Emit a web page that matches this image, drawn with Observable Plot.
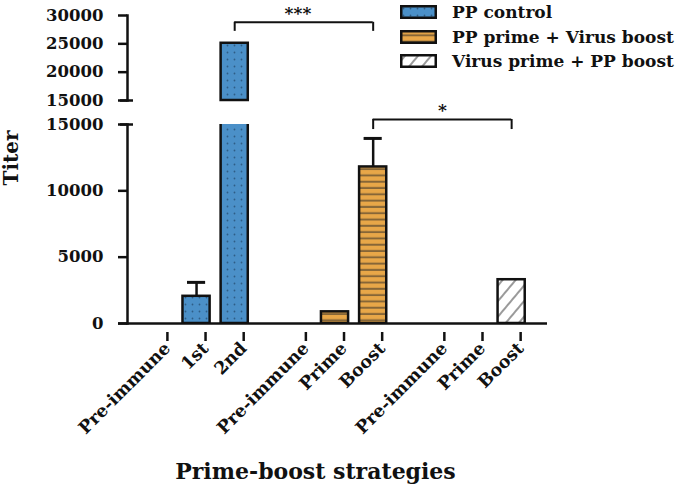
<!DOCTYPE html>
<html><head><meta charset="utf-8">
<script src="https://cdn.jsdelivr.net/npm/d3@7"></script>
<script src="https://cdn.jsdelivr.net/npm/@observablehq/plot@0.6"></script>
<style>
html,body{margin:0;padding:0;background:#fff;}
#chart{position:relative;width:689px;height:491px;font-family:"DejaVu Serif",serif;font-weight:bold;color:#111;overflow:hidden;}
#chart svg.plot{position:absolute;left:0;top:0;overflow:visible;}
.legend{position:absolute;left:400px;top:0px;}
.legend .row{display:flex;align-items:center;height:24.5px;font-size:17px;white-space:nowrap;}
.legend .row svg{margin-right:15px;}
.ytitle{position:absolute;left:11px;top:158px;transform:translate(-50%,-50%) rotate(-90deg);font-size:20px;white-space:nowrap;}
.xtitle{position:absolute;left:0;width:631px;top:460px;text-align:center;font-size:22px;line-height:22px;white-space:nowrap;}
</style></head>
<body>
<svg width="0" height="0" style="position:absolute">
  <defs>
    <pattern id="dots" patternUnits="userSpaceOnUse" width="7" height="7">
      <rect width="7" height="7" fill="#4b90c8"/>
      <circle cx="3.5" cy="3.5" r="0.9" fill="#2e5d86"/>
    </pattern>
    <pattern id="stripes" patternUnits="userSpaceOnUse" width="6" height="6.3">
      <rect width="6" height="6.3" fill="#e8a748"/>
      <rect y="4.3" width="6" height="2" fill="#866637"/>
    </pattern>
    <pattern id="hatch" patternUnits="userSpaceOnUse" width="10" height="10" patternTransform="rotate(40)">
      <rect width="10" height="10" fill="#fff"/>
      <rect x="4" width="2" height="10" fill="#9a9a9a"/>
    </pattern>
  </defs>
</svg>
<div id="chart"></div>
<script>
// ---- data ----
const groups = ["PP control", "PP prime + Virus boost", "Virus prime + PP boost"];
const timepoints = [["Pre-immune", "1st", "2nd"], ["Pre-immune", "Prime", "Boost"], ["Pre-immune", "Prime", "Boost"]];
const titers = [[0, 2050, 25100], [0, 880, 11800], [0, 0, 3300]];
const errorsUp = [[0, 1050, 0], [0, 0, 2150], [0, 0, 0]];
const yTicksLower = [0, 5000, 10000, 15000];
const yTicksUpper = [15000, 20000, 25000, 30000];
const breakAt = 15000;
const yMaxUpper = 30000;
// significance comparisons: [groupIndex, timepointIndex]
const comparisons = [
  {from: [0, 2], to: [1, 2], label: "***", y: 28800, drop: 27200, panel: "upper"},
  {from: [1, 2], to: [2, 2], label: "*", y: 15380, drop: 14620, panel: "lower"}
];

// ---- layout/style ----
const fills = ["url(#dots)", "url(#stripes)", "url(#hatch)"];
const groupGap = 1.63;
const xDomain = [-0.81, 10.2];
const W = 689, ML = 127, MR = 142;
const ink = "#111";
const sw = 2.5;

const posOf = (g, t) => g * (timepoints[g].length - 1 + groupGap) + t;
const bars = [];
groups.forEach((grp, g) => timepoints[g].forEach((lab, t) => {
  bars.push({g, group: grp, label: lab, pos: posOf(g, t), value: titers[g][t], err: errorsUp[g][t]});
}));
const labelAt = new Map(bars.map(d => [d.pos, d.label]));
const errs = bars.filter(d => d.err > 0);
const drawn = bars.filter(d => d.value > 0);
const cmp = comparisons.map(c => ({...c, x1: posOf(...c.from), x2: posOf(...c.to), mid: (posOf(...c.from) + posOf(...c.to)) / 2}));

function bracketMarks(list, dxText) {
  return [
    Plot.ruleY(list, {y: "y", x1: "x1", x2: "x2", stroke: ink, strokeWidth: 2}),
    Plot.ruleX(list, {x: "x1", y1: "drop", y2: "y", stroke: ink, strokeWidth: 2}),
    Plot.ruleX(list, {x: "x2", y1: "drop", y2: "y", stroke: ink, strokeWidth: 2}),
    Plot.text(list, {x: "mid", y: "y", text: "label", dx: dxText, dy: -9, fontSize: 17, fill: ink, fontWeight: "bold"})
  ];
}

const commonStyle = {fontFamily: "DejaVu Serif", fontWeight: "bold", fontSize: "16.5px", color: ink, background: "transparent", overflow: "visible"};

const lower = Plot.plot({
  width: W, height: 491, marginTop: 124, marginBottom: 168, marginLeft: ML, marginRight: MR,
  x: {domain: xDomain},
  y: {domain: [0, breakAt]},
  color: {type: "identity"},
  style: commonStyle,
  marks: [
    Plot.rectY(drawn, {x1: d => d.pos - 0.5, x2: d => d.pos + 0.5, insetLeft: 5.5, insetRight: 5.5, y1: 0, y2: "value", fill: d => fills[d.g], stroke: ink, strokeWidth: sw, clip: true}),
    Plot.ruleX(errs, {x: "pos", y1: "value", y2: d => d.value + d.err, stroke: ink, strokeWidth: sw}),
    Plot.ruleY(errs, {y: d => d.value + d.err, x1: d => d.pos - 0.5, x2: d => d.pos + 0.5, insetLeft: 10, insetRight: 10, stroke: ink, strokeWidth: 3}),
    Plot.frame({anchor: "left", stroke: ink, strokeWidth: sw}),
    Plot.ruleY([0], {insetLeft: -9, stroke: ink, strokeWidth: sw}),
    Plot.ruleY([breakAt], {x1: xDomain[0], x2: xDomain[0], insetLeft: -7, insetRight: -6, stroke: ink, strokeWidth: sw}),
    Plot.axisY({ticks: yTicksLower, tickSize: 9, tickPadding: 15, tickFormat: d => String(d), label: null, stroke: ink, strokeWidth: sw, fill: ink}),
    Plot.axisX({ticks: bars.map(d => d.pos), tickFormat: p => labelAt.get(p), tickRotate: -45, tickSize: 9, tickPadding: 4, dx: 9, dy: 9, label: null, fontSize: 17.5, stroke: ink, strokeWidth: sw, fill: ink}),
    ...bracketMarks(cmp.filter(c => c.panel === "lower"), 0)
  ]
});
lower.classList.add("plot");

const upper = Plot.plot({
  width: W, height: 112, marginTop: 15, marginBottom: 12, marginLeft: ML, marginRight: MR,
  x: {domain: xDomain, axis: null},
  y: {domain: [breakAt, yMaxUpper]},
  color: {type: "identity"},
  style: commonStyle,
  marks: [
    Plot.rectY(drawn.filter(d => d.value > breakAt), {x1: d => d.pos - 0.5, x2: d => d.pos + 0.5, insetLeft: 5.5, insetRight: 5.5, y1: breakAt, y2: "value", fill: d => fills[d.g], stroke: ink, strokeWidth: sw}),
    Plot.frame({anchor: "left", stroke: ink, strokeWidth: sw}),
    Plot.ruleY([breakAt], {x1: xDomain[0], x2: xDomain[0], insetLeft: -7, insetRight: -6, stroke: ink, strokeWidth: sw}),
    Plot.axisY({ticks: yTicksUpper, tickSize: 9, tickPadding: 15, tickFormat: d => String(d), label: null, stroke: ink, strokeWidth: sw, fill: ink}),
    ...bracketMarks(cmp.filter(c => c.panel === "upper"), -6)
  ]
});
upper.classList.add("plot");

const chart = document.getElementById("chart");
chart.appendChild(lower);
chart.appendChild(upper);

// legend
const legend = d3.select(chart).append("div").attr("class", "legend");
groups.forEach((grp, g) => {
  const row = legend.append("div").attr("class", "row");
  const s = row.append("svg").attr("width", 37).attr("height", 14);
  s.append("rect").attr("x", 1.25).attr("y", 1.25).attr("width", 34.5).attr("height", 11.5)
    .attr("fill", fills[g]).attr("stroke", ink).attr("stroke-width", sw);
  row.append("span").text(grp);
});

d3.select(chart).append("div").attr("class", "ytitle").text("Titer");
d3.select(chart).append("div").attr("class", "xtitle").text("Prime-boost strategies");
</script>
</body></html>
